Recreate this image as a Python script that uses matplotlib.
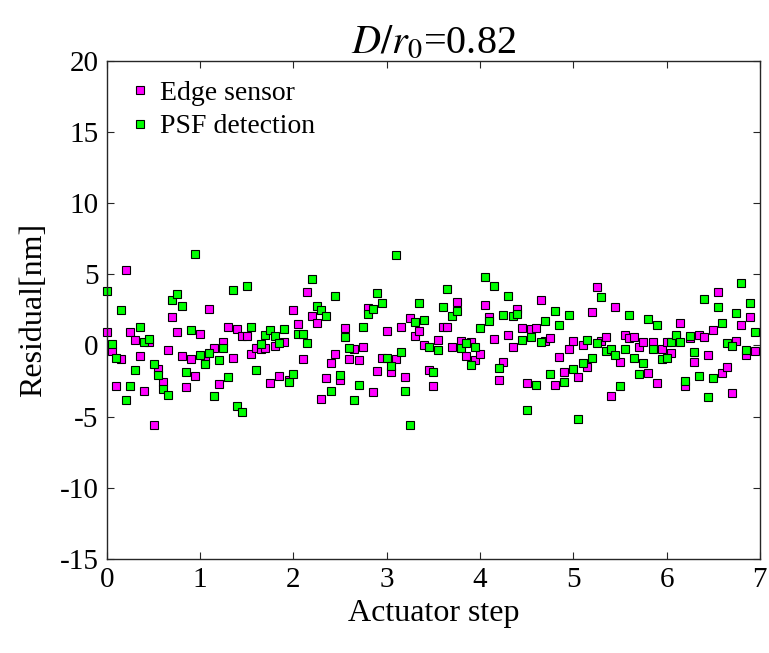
import numpy as np
import matplotlib
matplotlib.use("Agg")
import matplotlib.pyplot as plt

# actuator steps (0.05 spacing, 140 samples)
steps = np.round(np.arange(140) * 0.05, 2)

edge_sensor = [
    0.97, -0.39, -2.82, -0.95, 5.28, 0.93, 0.37, -0.72, -3.20, 0.25,
    -5.56, -1.67, -2.60, -0.33, 1.98, 0.93, -0.76, -2.95, -0.92, -2.13,
    0.79, -1.10, 2.56, -0.20, -2.72, 0.21, 1.30, -0.87, 1.15, 0.68,
    0.67, -0.59, -0.15, -0.25, -0.20, -2.63, -0.02, -2.17, 0.26, -2.40,
    2.50, 1.50, -0.92, 3.75, 2.05, 1.57, -3.76, -2.28, -1.24, -0.58,
    -2.44, 1.23, -0.96, -0.25, -1.03, -0.10, 2.60, -3.30, -1.77, -0.89,
    1.00, -1.85, -0.94, 1.29, -2.21, 1.90, 0.63, 1.03, 0.00, -1.76,
    -2.88, 0.38, 1.29, 1.29, -0.12, 3.02, 0.33, -0.73, 0.25, -1.05,
    -0.60, 2.85, 2.00, 0.47, -2.45, -1.16, 0.76, -0.13, 2.54, 1.23,
    -2.61, 1.15, 1.23, 3.20, 0.30, 0.50, -2.80, -0.79, -1.90, -0.25,
    0.30, -2.25, 0.01, -1.50, 2.35, 4.09, 0.30, 0.58, -3.55, 2.68,
    -1.16, 0.72, 0.50, 0.62, -0.13, 0.25, -1.95, 0.25, -2.66, -0.22,
    0.27, -0.50, 0.60, 1.60, -2.84, 0.50, -1.14, 0.74, 0.62, -0.65,
    1.09, 3.76, -1.91, -1.53, -3.31, 0.29, 1.42, -0.69, 1.98, -0.41,
]

psf_detection = [
    3.83, 0.11, -0.90, 2.47, -3.85, -2.82, -1.70, 1.30, 0.25, 0.45,
    -1.28, -2.05, -3.05, -3.48, 3.20, 3.60, 2.77, -1.84, 1.09, 6.43,
    -0.65, -1.30, -0.52, -3.57, -1.03, -0.20, -2.20, 3.90, -4.22, -4.65,
    4.20, 1.30, -1.76, 0.12, 0.70, 1.10, 0.68, 0.16, 1.15, -2.57,
    -1.98, 0.78, 0.80, 0.15, 4.66, 2.78, 2.52, 2.10, -3.21, 3.49,
    -2.07, 0.62, -0.20, -3.84, -2.80, 1.30, 2.20, 2.58, 3.71, 2.98,
    -0.90, -1.43, 6.33, -0.49, -3.21, -5.56, 1.64, 2.98, 1.80, -0.10,
    -1.84, -0.35, 2.70, 3.96, 2.08, 2.43, -0.17, 0.14, -1.37, -0.10,
    1.20, 4.79, 1.70, 4.20, -1.60, 2.12, 3.48, 2.10, 2.20, 0.39,
    -4.53, 0.62, -2.75, 0.25, 1.74, -2.00, 2.40, 1.42, -2.56, 2.12,
    -1.67, -5.18, -1.25, 0.39, -0.88, 0.15, 3.43, -0.37, -0.22, -0.65,
    -2.84, -0.22, 2.16, -0.88, -2.00, -1.21, 1.84, -0.22, 1.46, -0.97,
    -0.88, 0.25, 0.72, 0.25, -2.47, 0.67, -0.46, -2.14, 3.24, -3.64,
    -2.28, 2.68, 1.60, 0.15, -0.04, 2.30, 4.37, -0.32, 2.96, 0.95,
]

plt.rcParams['font.family'] = ['Liberation Serif', 'DejaVu Serif']
plt.rcParams['mathtext.fontset'] = 'stix'
plt.rcParams['axes.unicode_minus'] = False

fig = plt.figure(figsize=(7.69, 6.53), dpi=100)
ax = fig.add_axes([0.139, 0.144, 0.849, 0.763])

ax.plot(steps, edge_sensor, 's', ms=6, mfc='#ff00ff', mec='black',
        mew=0.8, label='Edge sensor', clip_on=False)
ax.plot(steps, psf_detection, 's', ms=6, mfc='#00ff00', mec='black',
        mew=0.8, label='PSF detection', clip_on=False)

ax.set_xlim(0, 7)
ax.set_ylim(-15, 20)
ax.set_xticks(range(0, 8))
ax.set_yticks(range(-15, 21, 5))
ax.tick_params(direction='in', top=True, right=True, labelsize=21,
               length=5, width=0.8, color='#262626', pad=6)
for s in ax.spines.values():
    s.set_color('#262626')
    s.set_linewidth(1.0)

ax.set_xlabel('Actuator step', fontsize=23)
ax.set_ylabel('Residual[nm]', fontsize=23, labelpad=8)
ax.set_title(r'$D/r_0$=0.82', fontsize=29, pad=6)

ax.legend(loc='upper left', frameon=False, fontsize=20, handletextpad=0.2,
          borderaxespad=0.3, labelspacing=0.3, handlelength=1.0)

fig.savefig('out.png', dpi=100)
